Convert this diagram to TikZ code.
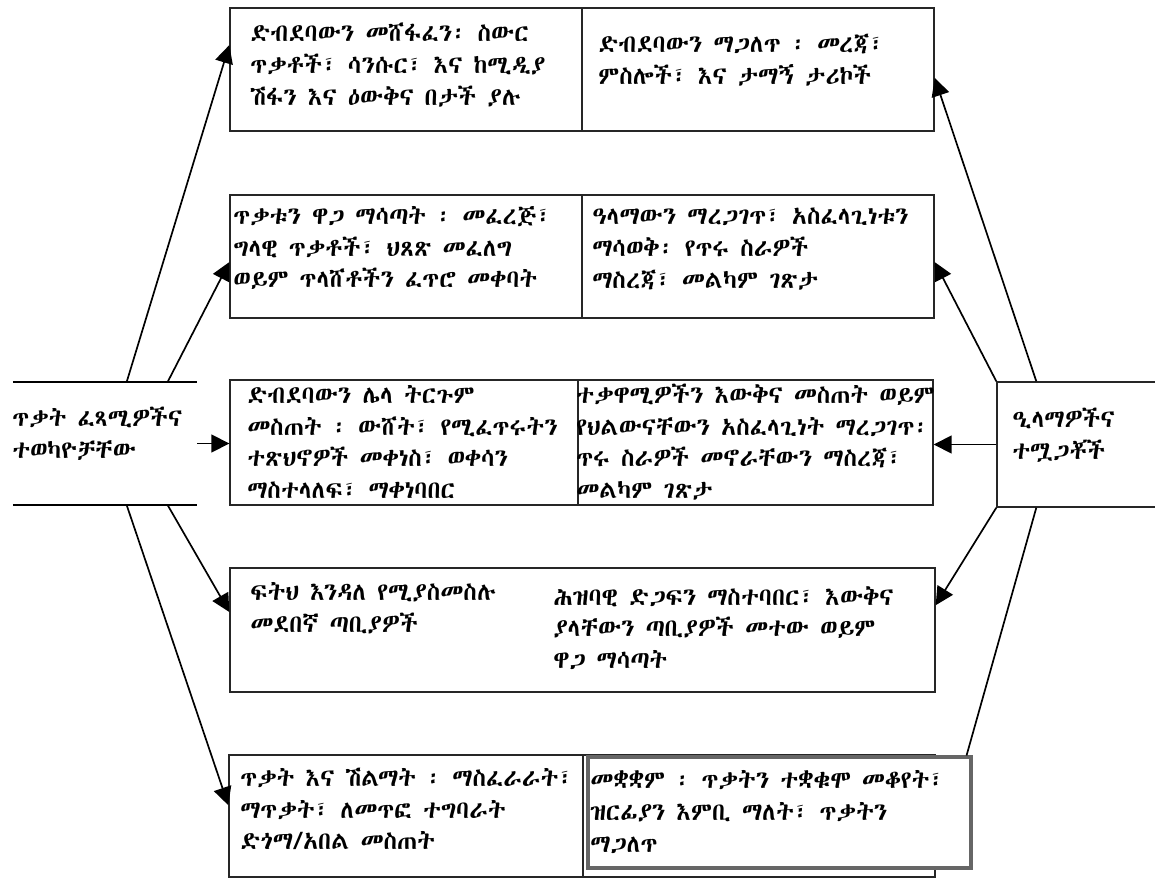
\documentclass[tikz,border=0pt]{standalone}
\usepackage{fontspec}
\IfFontExistsTF{Abyssinica SIL}{\newfontfamily\ethfont{Abyssinica SIL}}{%
  \newfontfamily\ethfont{DejaVu Sans}}
\usetikzlibrary{arrows.meta,fit}
\tikzset{
  box/.style={draw=black!85,line width=1pt,inner sep=0pt},
  txt/.style={anchor=west,align=left,inner sep=0pt,font=\ethfont\fontsize{17.5}{22.5}\selectfont},
  arr/.style={line width=1.2pt,-{Triangle[length=4.5mm,width=4.5mm]}},
  lnk/.style={line width=1.2pt}
}

\begin{document}
\begin{tikzpicture}[x=0.025cm,y=-0.025cm]
  \useasboundingbox (0,0) rectangle (1155,879);
  \node[box,fit={(230,8) (582,131)}] (b1l) {};
  \node[box,fit={(582,8) (934,131)}] (b1r) {};
  \node[box,fit={(230,195) (582,318)}] (b2l) {};
  \node[box,fit={(582,195) (934,318)}] (b2r) {};
  \node[box,fit={(230,380) (578,505)}] (b3l) {};
  \node[box,fit={(578,380) (933,505)}] (b3r) {};
  \node[box,fit={(230,568) (935,692)}] (b4) {};
  \node[box,fit={(229,755) (583,877)}] (b5l) {};
  \node[box,fit={(583,755) (935,877)}] (b5b) {};
  \node[box,draw=black!60,line width=2.2pt,fill=white,fit={(588,757) (971,868)}] (b5r) {};

  \node[inner sep=0pt,fit={(10,382) (197,505)}] (lnode) {};
  \draw[lnk] ([xshift=0.08cm]lnode.north west) -- (lnode.north east);
  \draw[lnk] ([xshift=0.08cm]lnode.south west) -- (lnode.south east);
  \node[box,fit={(997,382) (1170,507)}] (rnode) {};

  \node[txt] (tl) at (12,434) {ጥቃት ፈጻሚዎችና\\ተወካዮቻቸው};
  \node[txt] (tr) at (1012,435) {ዒላማዎችና\\ተሟጋቾች};

  \node[txt] (t1l) at (250,65) {ድብደባውን መሸፋፈን፡ ስውር\\ጥቃቶች፣ ሳንሱር፣ እና ከሚዲያ\\ሽፋን እና ዕውቅና በታች ያሉ};
  \node[txt] (t1r) at (598,60) {ድብደባውን ማጋለጥ ፡  መረጃ፣\\ምስሎች፣ እና ታማኝ ታሪኮች};
  \node[txt] (t2l) at (233,248) {ጥቃቱን ዋጋ ማሳጣት ፡ መፈረጅ፣\\ግላዊ ጥቃቶች፣ ህጸጽ መፈለግ\\ወይም ጥላሸቶችን ፈጥሮ መቀባት};
  \node[txt] (t2r) at (592,249) {ዓላማውን ማረጋገጥ፣ አስፈላጊነቱን\\ማሳወቅ፡ የጥሩ ስራዎች\\ማስረጃ፣ መልካም ገጽታ};
  \node[txt] (t3l) at (247,442) {ድብደባውን ሌላ ትርጉም\\መስጠት ፡ ውሸት፣ የሚፈጥሩትን\\ተጽህኖዎች መቀነስ፣ ወቀሳን\\ማስተላለፍ፣ ማቀነባበር};
  \node[txt] (t3r) at (576,442) {ተቃዋሚዎችን እውቅና መስጠት ወይም\\የህልውናቸውን አስፈላጊነት ማረጋገጥ፡\\ጥሩ ስራዎች መኖራቸውን ማስረጃ፣\\መልካም ገጽታ};
  \node[txt] (t4l) at (250,608) {ፍትህ እንዳለ የሚያስመስሉ\\መደበኛ ጣቢያዎች};
  \node[txt] (t4r) at (553,628) {ሕዝባዊ ድጋፍን ማስተባበር፣ እውቅና\\ያላቸውን ጣቢያዎች መተው ወይም\\ዋጋ ማሳጣት};
  \node[txt] (t5l) at (240,809) {ጥቃት እና ሽልማት ፡ ማስፈራራት፣\\ማጥቃት፣ ለመጥፎ ተግባራት\\ድጎማ/አበል መስጠት};
  \node[txt] (t5r) at (590,812) {መቋቋም ፡ ጥቃትን ተቋቁሞ መቆየት፣\\ዝርፊያን እምቢ ማለት፣ ጥቃትን\\ማጋለጥ};

  \draw[arr] ([xshift=2.925cm]lnode.north west) -- ([yshift=0.61cm]b1l.west);
  \draw[arr] ([xshift=3.95cm]lnode.north west) -- ([yshift=-0.14cm]b2l.west);
  \draw[arr] (lnode.east) -- (lnode.east -| b3l.west);
  \draw[arr] ([xshift=3.95cm]lnode.south west) -- ([yshift=0.45cm]b4.west);
  \draw[arr] ([xshift=2.925cm]lnode.south west) -- ([yshift=0.27cm]b5l.west);

  \draw[arr] ([xshift=1cm]rnode.north west) -- ([yshift=-0.21cm]b1r.east);
  \draw[arr] (rnode.north west) -- ([yshift=-0.14cm]b2r.east);
  \draw[arr] (rnode.west) -- (rnode.west -| b3r.east);
  \draw[arr] (rnode.south west) -- ([yshift=0.62cm]b4.east);
  \draw[lnk] ([xshift=1cm]rnode.south west) -- ([xshift=-0.15cm]b5r.north east);
\end{tikzpicture}
\end{document}
